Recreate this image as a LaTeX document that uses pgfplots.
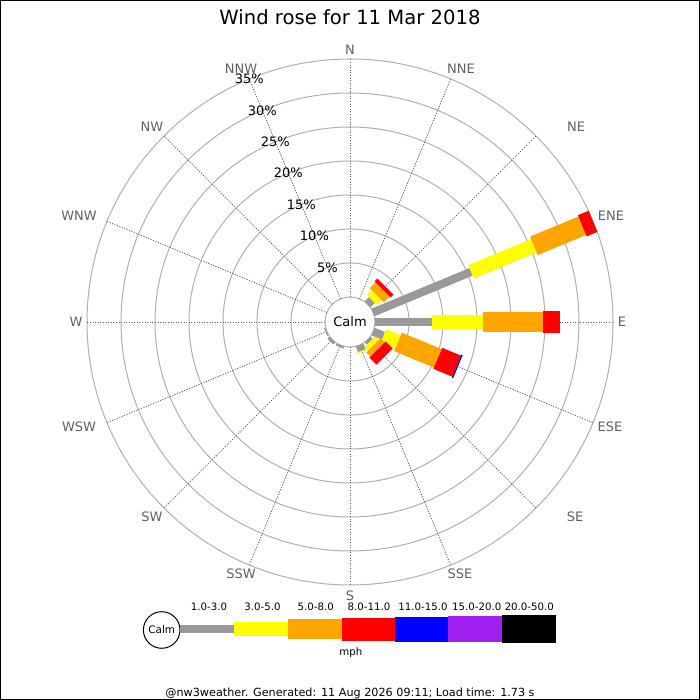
\documentclass[border=0pt]{standalone}
\usepackage{fontspec}
\setmainfont{DejaVu Sans}
\usepackage{pgfplots}
\pgfplotsset{compat=1.18}
\definecolor{cgrey}{RGB}{153,153,153}
\definecolor{cyellow}{RGB}{255,255,0}
\definecolor{corange}{RGB}{255,165,0}
\definecolor{cred}{RGB}{255,0,0}
\definecolor{cblue}{RGB}{0,0,255}
\definecolor{cpurple}{RGB}{160,32,240}
\definecolor{ringc}{RGB}{175,175,175}
\definecolor{spokec}{RGB}{95,95,95}
\definecolor{dirc}{RGB}{96,96,96}
% one bar segment: colour, width, direction (math angle), cumulative % start, end
\newcommand{\seg}[5]{\addplot[draw=#1, line width=#2, line cap=butt] table[row sep=\\, x expr={(25+6.8*\thisrow{p})*cos(#3)}, y expr={(25+6.8*\thisrow{p})*sin(#3)}] {p\\ #4\\ #5\\};}
\newcommand{\fs}[1]{\fontsize{#1}{#1}\selectfont}
\begin{document}
\begin{tikzpicture}
% rings and spokes (pixel units, centre of rose)
\begin{scope}[x=0.5pt,y=0.5pt,shift={(350,378)}]
  \foreach \r in {25,59,93,127,161,195,229,263}
    \draw[ringc, line width=0.5pt] (0,0) circle[radius=\r];
  \foreach \a in {0,22.5,...,337.5}
    \draw[spokec, line width=0.45pt, dash pattern=on 0.5pt off 0.8pt] (\a:25) -- (\a:263);
\end{scope}
\begin{axis}[at={(0pt,0pt)}, anchor=south west, scale only axis,
  width=350pt, height=350pt, xmin=-350, xmax=350, ymin=-378, ymax=322,
  hide axis, clip=false]
% 1.0-3.0
\seg{cgrey}{4.1pt}{22.5}{0}{15.6}
\seg{cgrey}{4.1pt}{0}{0}{8.4}
\seg{cgrey}{4.1pt}{-22.5}{0}{1.66}
\seg{cgrey}{4.1pt}{45}{0}{0.9}
\seg{cgrey}{4.1pt}{-45}{0}{0.45}
\seg{cgrey}{4.1pt}{-67.5}{0}{0.9}
\seg{cgrey}{4.1pt}{-112.5}{0}{0.3}
\seg{cgrey}{4.1pt}{-135}{0}{0.4}
\seg{cgrey}{4.1pt}{-157.5}{0}{0.2}
% 3.0-5.0
\seg{cyellow}{7.2pt}{22.5}{15.6}{25.6}
\seg{cyellow}{7.2pt}{0}{8.4}{15.9}
\seg{cyellow}{7.2pt}{-22.5}{1.66}{3.97}
\seg{cyellow}{7.2pt}{45}{0.9}{1.9}
\seg{cyellow}{7.2pt}{-45}{0.45}{1.2}
\seg{cyellow}{7.2pt}{-67.5}{0.9}{1.05}
% 5.0-8.0
\seg{corange}{10pt}{22.5}{25.6}{33.3}
\seg{corange}{10pt}{0}{15.9}{24.75}
\seg{corange}{10pt}{-22.5}{3.97}{10.3}
\seg{corange}{10pt}{45}{1.9}{3.1}
\seg{corange}{10pt}{-45}{1.2}{2.05}
% 8.0-11.0
\seg{cred}{11.4pt}{22.5}{33.3}{35.0}
\seg{cred}{11.4pt}{0}{24.75}{27.2}
\seg{cred}{11.4pt}{-22.5}{10.3}{13.3}
\seg{cred}{11.4pt}{45}{3.1}{3.7}
\seg{cred}{11.4pt}{-45}{2.05}{3.5}
% 11.0-15.0
\seg{cblue}{12.5pt}{-22.5}{13.3}{13.5}
\end{axis}
% ring labels along NNW
\begin{scope}[x=0.5pt,y=0.5pt,shift={(350,378)}]
  \node[font=\fs{6.5pt}] at (112.5:59) {5\%};
  \node[font=\fs{6.5pt}] at (112.5:93) {10\%};
  \node[font=\fs{6.5pt}] at (112.5:127) {15\%};
  \node[font=\fs{6.5pt}] at (112.5:161) {20\%};
  \node[font=\fs{6.5pt}] at (112.5:195) {25\%};
  \node[font=\fs{6.5pt}] at (112.5:229) {30\%};
  \node[font=\fs{6.5pt}] at (112.5:263) {35\%};
  \node[font=\fs{6.5pt}] at (0,0) {Calm};
\end{scope}
% pixel coordinates, y downwards
\begin{scope}[x=0.5pt,y=0.5pt,shift={(0,700)},yscale=-1]
  \node[font=\fs{9.8pt}] at (350,17) {Wind rose for 11 Mar 2018};
  \begin{scope}[every node/.style={font=\fs{6.5pt}, text=dirc}]
    \node at (350,50) {N};
    \node at (461,69) {NNE};
    \node at (576,127) {NE};
    \node at (611,216) {ENE};
    \node at (622,322) {E};
    \node at (610,427) {ESE};
    \node at (575,517) {SE};
    \node at (460,574) {SSE};
    \node at (350,596) {S};
    \node at (241,574) {SSW};
    \node at (152,517) {SW};
    \node at (79,427) {WSW};
    \node at (76,322) {W};
    \node at (79,216) {WNW};
    \node at (152,127) {NW};
    \node at (241,69) {NNW};
  \end{scope}
  % legend
  \draw[black, line width=0.5pt] (161.7,630) circle[radius=18.3];
  \node[font=\fs{5.2pt}] at (161.7,630) {Calm};
  \fill[cgrey]   (180,625)     rectangle (234.3,632.7);
  \fill[cyellow] (234.3,621.7) rectangle (287.7,636);
  \fill[corange] (287.7,619)   rectangle (341.7,639.3);
  \fill[cred]    (341.7,617.7) rectangle (395,640.7);
  \fill[cblue]   (395,616.7)   rectangle (448.3,641.7);
  \fill[cpurple] (448.3,615.7) rectangle (502.3,642.3);
  \fill[black]   (502.3,615)   rectangle (555.7,643.3);
  \begin{scope}[every node/.style={font=\fs{5.1pt}}]
    \node at (209,607) {1.0-3.0};
    \node at (262.5,607) {3.0-5.0};
    \node at (315.8,607) {5.0-8.0};
    \node at (369,607) {8.0-11.0};
    \node at (423,607) {11.0-15.0};
    \node at (476.7,607) {15.0-20.0};
    \node at (529.3,607) {20.0-50.0};
    \node at (350.8,653) {mph};
  \end{scope}
  \node[font=\fs{5.6pt}] at (350,693) {@nw3weather. Generated: 11 Aug 2026 09:11; Load time: 1.73 s};
  \draw[black, line width=0.5pt] (0.5,0.5) rectangle (699.5,699.5);
  \pgfresetboundingbox
  \path[use as bounding box] (0,0) rectangle (700,700);
\end{scope}
\end{tikzpicture}
\end{document}
